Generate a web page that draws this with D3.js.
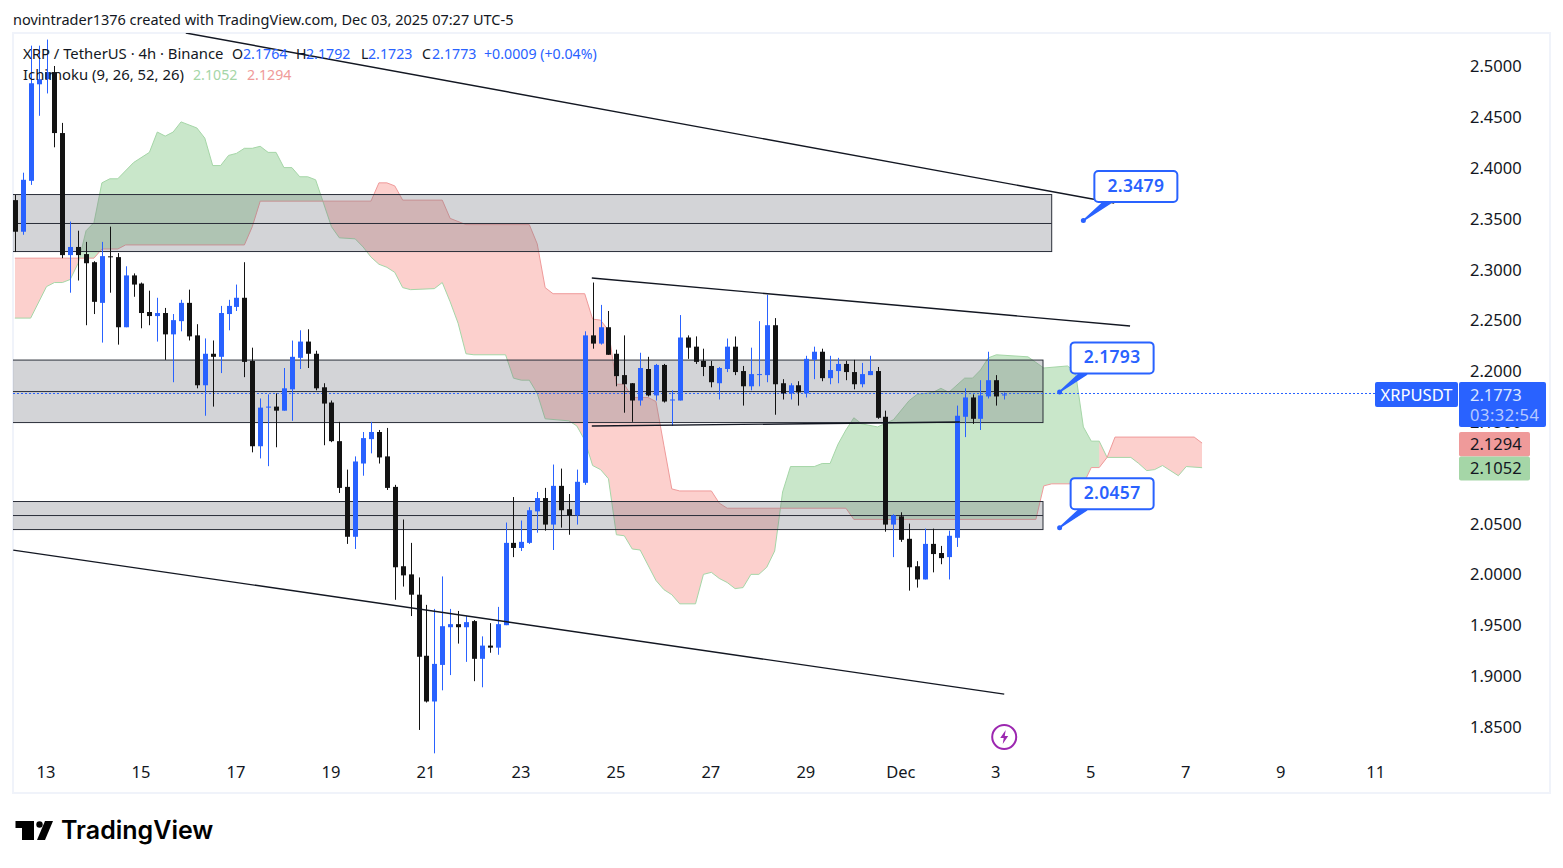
<!DOCTYPE html>
<html>
<head>
<meta charset="utf-8">
<title>XRP / TetherUS</title>
<script src="https://cdn.jsdelivr.net/npm/d3@7/dist/d3.min.js"></script>
<style>
  html, body { margin: 0; padding: 0; background: #fff; }
  svg { display: block; }
  text { font-family: "Noto Sans", sans-serif; }
</style>
</head>
<body>
<div id="chart"></div>
<script>
// candles, 4h, first one sits four bars before the "13" tick
const firstIndex = -4;
const opens = [2.3685,2.3374,2.3875,2.4825,2.4875,2.4945,2.4345,2.3144,2.3224,2.3154,2.3074,2.2674,2.3132,2.3124,2.2434,2.2944,2.2864,2.2584,2.2544,2.2574,2.2364,2.2494,2.2674,2.2354,2.1863,2.2173,2.2143,2.2564,2.2634,2.2724,2.2103,2.1263,2.1648,2.1653,2.1613,2.1823,2.2133,2.2293,2.2173,2.1843,2.1693,2.1313,2.0863,2.0372,2.1093,2.1333,2.1403,2.1163,2.0863,2.0082,2.0002,1.9802,1.9201,1.8751,1.9111,1.9482,1.9512,1.9482,1.9542,1.9171,1.9301,1.9281,1.9502,2.0312,2.0262,2.0312,2.0622,2.0753,2.0492,2.0873,2.0643,2.0583,2.0903,2.2354,2.2273,2.2434,2.2173,2.1963,2.1883,2.1713,2.2023,2.1763,2.2063,2.1720,2.1713,2.2333,2.2243,2.2103,2.2053,2.1883,2.2023,2.2243,2.2003,2.1853,2.1970,2.1963,2.2454,2.1883,2.1783,2.1863,2.1783,2.2113,2.2193,2.1933,2.2003,2.2073,2.1993,2.1873,2.1963,2.2003,2.1553,2.0492,2.0573,2.0352,2.0082,1.9952,2.0302,2.0212,2.0172,2.0362,2.1553,2.1743,2.1533,2.1753,2.1913,2.1764];
const highs = [2.3735,2.3955,2.5205,2.5205,2.5265,2.5005,2.4445,2.3474,2.3384,2.3274,2.3084,2.3274,2.3424,2.3164,2.3034,2.2964,2.2874,2.2794,2.2724,2.2624,2.2564,2.2704,2.2804,2.2464,2.2324,2.2304,2.2644,2.2704,2.2854,2.3074,2.2233,2.1733,2.1773,2.1783,2.2033,2.2303,2.2404,2.2414,2.2203,2.1883,2.1713,2.1503,2.1033,2.1163,2.1403,2.1503,2.1423,2.1443,2.0883,2.0542,2.0312,1.9972,1.9702,1.9662,1.9982,1.9662,1.9642,1.9592,1.9552,1.9392,1.9522,1.9682,2.0512,2.0763,2.0532,2.0663,2.0813,2.0853,2.1083,2.1043,2.0793,2.1033,2.2394,2.2874,2.2654,2.2594,2.2213,2.2354,2.1885,2.2183,2.2143,2.2073,2.2073,2.1813,2.2554,2.2354,2.2344,2.2223,2.2103,2.2043,2.2323,2.2343,2.2053,2.2233,2.2494,2.2754,2.2524,2.1923,2.1883,2.1903,2.2153,2.2243,2.2223,2.2153,2.2133,2.2103,2.2113,2.2083,2.2153,2.2043,2.1613,2.0593,2.0613,2.0502,2.0132,2.0452,2.0452,2.0282,2.0432,2.1663,2.1833,2.1773,2.1913,2.2193,2.1963,2.1792];
const lows = [2.3174,2.3344,2.3835,2.4515,2.4735,2.4205,2.3114,2.2774,2.2894,2.2454,2.2564,2.2283,2.2774,2.2263,2.2434,2.2734,2.2424,2.2454,2.2293,2.2113,2.1893,2.2394,2.2304,2.1833,2.1563,2.1653,2.1983,2.2404,2.2594,2.1943,2.1203,2.1143,2.1067,2.1253,2.1613,2.1513,2.2023,2.2033,2.1813,2.1273,2.1303,2.0803,2.0302,2.0252,2.0973,2.1193,2.1093,2.0833,1.9752,1.9882,1.9592,1.8471,1.8741,1.8241,1.8861,1.9011,1.9321,1.9141,1.8951,1.8891,1.9231,1.9211,1.9502,2.0172,2.0232,2.0302,2.0412,2.0432,2.0242,2.0462,2.0392,2.0492,2.0883,2.2223,2.2263,2.2163,2.1853,2.1593,2.1503,2.1663,2.1753,2.1713,2.1693,2.1463,2.1713,2.2123,2.2073,2.1953,2.1843,2.1723,2.1993,2.1963,2.1663,2.1813,2.1853,2.1893,2.1573,2.1723,2.1723,2.1663,2.1743,2.1923,2.1903,2.1873,2.1883,2.1913,2.1823,2.1843,2.1963,2.1533,2.0422,2.0172,2.0322,1.9842,1.9872,1.9952,2.0022,2.0102,1.9952,2.0272,2.1353,2.1483,2.1423,2.1733,2.1663,2.1723];
const closes = [2.3374,2.3885,2.4835,2.4875,2.4945,2.4345,2.3144,2.3224,2.3144,2.3064,2.2684,2.3134,2.3124,2.2434,2.2944,2.2854,2.2574,2.2544,2.2574,2.2364,2.2504,2.2674,2.2344,2.1863,2.2173,2.2143,2.2574,2.2644,2.2724,2.2093,2.1263,2.1643,2.1653,2.1613,2.1833,2.2143,2.2293,2.2173,2.1833,2.1683,2.1313,2.0853,2.0372,2.1113,2.1343,2.1403,2.1153,2.0853,2.0072,1.9992,1.9802,1.9191,1.8751,1.9121,1.9492,1.9512,1.9482,1.9532,1.9171,1.9301,1.9281,1.9512,2.0312,2.0262,2.0322,2.0633,2.0753,2.0492,2.0873,2.0633,2.0583,2.0913,2.2354,2.2273,2.2434,2.2163,2.1953,2.1873,2.1713,2.2033,2.1763,2.2063,2.1703,2.1723,2.2333,2.2233,2.2093,2.2043,2.1893,2.2033,2.2243,2.1993,2.1853,2.1973,2.1973,2.2454,2.1873,2.1783,2.1863,2.1793,2.2123,2.2193,2.1933,2.2013,2.2073,2.1993,2.1873,2.1973,2.2003,2.1543,2.0492,2.0583,2.0342,2.0072,1.9952,2.0302,2.0202,2.0162,2.0382,2.1563,2.1743,2.1533,2.1763,2.1913,2.1753,2.1773];

// ichimoku cloud edges, corner points only
const spanAIndex = [-4,-2,0,1,2,3,4,5,6,7,8,9,11,13,14,15,16,17,19,20,21,22,23,24,25,26,27,28,29,30,31,32,33,34,35,36,37,39,40,41,42,43,44,45,46,49,50,51,52,53,54,58,59,60,61,62,63,66,67,68,69,70,71,72,73,74,75,77,78,79,80,82,83,84,85,86,87,88,89,90,91,92,93,94,97,98,99,100,101,102,103,105,107,109,110,112,113,114,116,117,118,119,120,124,126,129,130,131,132,133,134,137,138,139,140,141,143,144,146];
const spanA = [2.2524,2.2524,2.2834,2.2874,2.2874,2.2904,2.3064,2.3384,2.3464,2.3855,2.3895,2.3895,2.4055,2.4155,2.4355,2.4315,2.4355,2.4455,2.4395,2.4295,2.4025,2.4025,2.4125,2.4145,2.4195,2.4195,2.4215,2.4155,2.4155,2.4005,2.4005,2.3915,2.3915,2.3885,2.3655,2.3424,2.3314,2.3304,2.3224,2.3124,2.3054,2.3024,2.2974,2.2824,2.2804,2.2814,2.2874,2.2684,2.2474,2.2173,2.2163,2.2163,2.1933,2.1913,2.1913,2.1783,2.1533,2.1513,2.1463,2.1323,2.1073,2.1033,2.0943,2.0392,2.0382,2.0252,2.0242,1.9942,1.9852,1.9802,1.9712,1.9712,2.0002,2.0022,1.9962,1.9922,1.9862,1.9872,2.0002,2.0002,2.0072,2.0232,2.0813,2.1063,2.1063,2.1093,2.1093,2.1283,2.1423,2.1543,2.1483,2.1453,2.1523,2.1713,2.1773,2.1793,2.1833,2.1793,2.1933,2.1933,2.2013,2.2133,2.2163,2.2143,2.2033,2.2053,2.1993,2.1453,2.1313,2.1313,2.1153,2.1153,2.1093,2.1023,2.1033,2.1073,2.0973,2.1063,2.1052];
const spanBIndex = [-4,6,7,9,10,25,26,27,41,42,43,44,45,50,51,53,61,62,63,64,68,69,70,71,72,73,74,76,77,78,79,80,84,85,86,101,102,125,126,127,131,132,133,134,135,145,146];
const spanB = [2.3114,2.3114,2.3204,2.3204,2.3244,2.3244,2.3424,2.3675,2.3675,2.3855,2.3855,2.3825,2.3685,2.3685,2.3505,2.3444,2.3444,2.3254,2.2824,2.2764,2.2764,2.2514,2.2504,2.2404,2.1873,2.1873,2.1743,2.1743,2.1703,2.1273,2.0843,2.0823,2.0823,2.0703,2.0653,2.0653,2.0543,2.0543,2.0873,2.0893,2.0893,2.1053,2.1053,2.1153,2.1353,2.1353,2.1294];

// the bar where the cloud flips to red keeps the red fill back to its left edge
const flipIndex = [133, 134, 133];
const flipPrice = [2.1313, 2.1153, 2.1053];

// grey zones drawn on the chart
const zoneTop = [2.374, 2.2111, 2.0719];
const zoneMid = [2.3455, 2.1801, 2.0581];
const zoneBottom = [2.3179, 2.1496, 2.0443];
const zoneEnd = [127, 125.9, 125.9];

// trend lines: start/end bar index and price
const trendX1 = [17.6, 68.9, 68.9, -4.2];
const trendY1 = [2.533, 2.2918, 2.1462, 2.0241];
const trendX2 = [134.9, 136.9, 115.4, 121];
const trendY2 = [2.3657, 2.2446, 2.1501, 1.8824];

// price callouts
const noteValue = ['2.3479', '2.1793', '2.0457'];
const notePointIndex = [131, 128, 128];
const notePointPrice = [2.3479, 2.1793, 2.0457];

// 2.1000 sits fully behind the green label in the picture
const priceTicks = [1.85, 1.9, 1.95, 2.0, 2.05, 2.15, 2.2, 2.25, 2.3, 2.35, 2.4, 2.45, 2.5];
const timeTickIndex = [0,12,24,36,48,60,72,84,96,108,120,132,144,156,168];
const timeTickLabels = ['13','15','17','19','21','23','25','27','29','Dec','3','5','7','9','11'];

const width = 1563, height = 868;
const pane = { left: 13, right: 1550, top: 33, bottom: 793 };
const BLUE = '#2962ff', BLACK = '#131313', INK = '#131722';

const x = d3.scaleLinear().domain([0, 120]).range([46.5, 46.5 + 7.915 * 120]);
const y = d3.scaleLinear().domain([1.85, 2.5]).range([727, 66.5]);

const svg = d3.select('#chart').append('svg').attr('width', width).attr('height', height);

// frame
svg.append('rect')
  .attr('x', pane.left).attr('y', pane.top)
  .attr('width', pane.right - pane.left).attr('height', pane.bottom - pane.top)
  .attr('fill', '#fff').attr('stroke', '#f0f3fa').attr('stroke-width', 2);

const defs = svg.append('defs');
defs.append('clipPath').attr('id', 'paneClip').append('rect')
  .attr('x', pane.left).attr('y', pane.top)
  .attr('width', 1373).attr('height', pane.bottom - pane.top);

const plot = svg.append('g').attr('clip-path', 'url(#paneClip)');

// cloud: each colour is "under one edge" clipped by "over the other edge"
const pointsA = spanAIndex.map((d, i) => [d, spanA[i]]);
const pointsB = spanBIndex.map((d, i) => [d, spanB[i]]);
const under = d3.area().x(d => x(d[0])).y0(pane.bottom).y1(d => y(d[1]));
const over = d3.area().x(d => x(d[0])).y0(pane.top - 50).y1(d => y(d[1]));
const edge = d3.line().x(d => x(d[0])).y(d => y(d[1]));

defs.append('clipPath').attr('id', 'overB').append('path').attr('d', over(pointsB));
defs.append('clipPath').attr('id', 'overA').append('path').attr('d', over(pointsA));

const RED_FILL = 'rgba(244,67,54,0.25)';
plot.append('path').attr('d', under(pointsA)).attr('clip-path', 'url(#overB)')
  .attr('fill', 'rgba(76,175,80,0.3)');
plot.append('path').attr('d', under(pointsB)).attr('clip-path', 'url(#overA)')
  .attr('fill', RED_FILL);

const flipPath = edge(flipIndex.map((d, i) => [d, flipPrice[i]])) + 'Z';
plot.append('path').attr('d', flipPath).attr('fill', '#fff');
plot.append('path').attr('d', flipPath).attr('fill', RED_FILL);

plot.append('path').attr('d', edge(pointsA)).attr('fill', 'none').attr('stroke', '#a5d6a7').attr('stroke-width', 1);
plot.append('path').attr('d', edge(pointsB)).attr('fill', 'none').attr('stroke', '#ef9a9a').attr('stroke-width', 1);

// zones are see-through and lie over the cloud, under the candles
const zones = plot.selectAll('.zone').data(zoneTop.map((t, i) => i)).enter().append('g').attr('class', 'zone');
zones.append('rect')
  .attr('x', pane.left - 4)
  .attr('y', i => y(zoneTop[i]))
  .attr('width', i => x(zoneEnd[i]) - pane.left + 4)
  .attr('height', i => y(zoneBottom[i]) - y(zoneTop[i]))
  .attr('fill', 'rgba(120,123,134,0.33)').attr('stroke', '#2a2e39').attr('stroke-width', 1);
zones.append('line')
  .attr('x1', pane.left).attr('x2', i => x(zoneEnd[i]))
  .attr('y1', i => y(zoneMid[i])).attr('y2', i => y(zoneMid[i]))
  .attr('stroke', '#2a2e39').attr('stroke-width', 1);

// last price line
const lastClose = closes[closes.length - 1];
plot.append('line')
  .attr('x1', pane.left).attr('x2', 1375)
  .attr('y1', Math.round(y(lastClose)) - 0.5).attr('y2', Math.round(y(lastClose)) - 0.5)
  .attr('stroke', BLUE).attr('stroke-width', 1).attr('stroke-dasharray', '2 2');

// candles
const candles = opens.map((o, i) => ({
  i: firstIndex + i, o, h: highs[i], l: lows[i], c: closes[i]
}));
const candleColor = d => (d.c >= d.o ? BLUE : BLACK);

const candleGroup = plot.selectAll('.candle').data(candles).enter().append('g').attr('class', 'candle');
candleGroup.append('rect')
  .attr('x', d => Math.round(x(d.i)))
  .attr('width', 1)
  .attr('y', d => y(d.h))
  .attr('height', d => y(d.l) - y(d.h))
  .attr('fill', candleColor);
candleGroup.append('rect')
  .attr('x', d => Math.round(x(d.i)) - 2)
  .attr('width', 5)
  .attr('y', d => y(Math.max(d.o, d.c)))
  .attr('height', d => Math.max(1, Math.abs(y(d.o) - y(d.c))))
  .attr('fill', candleColor);

// trend lines
plot.selectAll('.trend').data(trendX1).enter().append('line')
  .attr('class', 'trend')
  .attr('x1', d => x(d))
  .attr('y1', (d, i) => y(trendY1[i]))
  .attr('x2', (d, i) => x(trendX2[i]))
  .attr('y2', (d, i) => y(trendY2[i]))
  .attr('stroke', INK).attr('stroke-width', 1.4);

// callouts
const noteW = 83, noteH = 31;
const notes = plot.selectAll('.note').data(noteValue).enter().append('g').attr('class', 'note')
  .attr('transform', (d, i) => `translate(${x(notePointIndex[i])},${y(notePointPrice[i]) - 0.5})`);
notes.append('path')
  .attr('d', 'M0,0L19,-17.5L27,-17.5Z')
  .attr('fill', BLUE).attr('stroke', BLUE).attr('stroke-width', 1.5).attr('stroke-linejoin', 'round');
notes.append('circle').attr('r', 2.5).attr('fill', BLUE);
notes.append('rect')
  .attr('x', 11).attr('y', -49.5).attr('width', noteW).attr('height', noteH).attr('rx', 4)
  .attr('fill', '#fff').attr('stroke', BLUE).attr('stroke-width', 2);
notes.append('text')
  .attr('x', 11 + noteW / 2).attr('y', -28.5).attr('text-anchor', 'middle')
  .attr('font-size', 17.5).attr('font-weight', 600).attr('letter-spacing', 0.3).attr('fill', BLUE)
  .text(d => d);

// lightning mark
const bolt = plot.append('g').attr('transform', `translate(${x(121)},737)`);
bolt.append('circle').attr('r', 12).attr('fill', '#fff').attr('stroke', '#9c27b0').attr('stroke-width', 2);
bolt.append('path').attr('d', 'M1.5,-7L-4,1L-0.5,1L-1.5,7L4,-1L0.5,-1Z').attr('fill', '#9c27b0');

// axes
const xAxis = d3.axisBottom(x)
  .tickValues(timeTickIndex)
  .tickFormat((d, i) => timeTickLabels[i])
  .tickSize(0);
const xAxisG = svg.append('g').attr('transform', 'translate(-1,762)').call(xAxis);
const yAxis = d3.axisRight(y).tickValues(priceTicks).tickFormat(d3.format('.4f')).tickSize(0);
const yAxisG = svg.append('g').attr('transform', 'translate(1470,0)').call(yAxis);
[xAxisG, yAxisG].forEach(g => {
  g.select('.domain').remove();
  g.selectAll('text').attr('fill', INK).attr('font-size', 16.5)
    .style('font-family', '"Noto Sans", sans-serif');
});
xAxisG.selectAll('text').attr('y', 0).attr('dy', '0.95em');
yAxisG.selectAll('text').attr('x', 0);

// price labels on the right
svg.append('rect').attr('x', 1375).attr('y', 382).attr('width', 83).attr('height', 25).attr('rx', 2).attr('fill', BLUE);
svg.append('text').attr('x', 1416.5).attr('y', 400.5).attr('text-anchor', 'middle')
  .attr('font-size', 16.5).attr('fill', '#fff').text('XRPUSDT');
svg.append('rect').attr('x', 1459).attr('y', 382).attr('width', 87).attr('height', 45).attr('rx', 2).attr('fill', BLUE);
svg.append('text').attr('x', 1470).attr('y', 401).attr('font-size', 16.5).attr('fill', '#dbe5ff').text('2.1773');
svg.append('text').attr('x', 1470).attr('y', 421).attr('font-size', 16.5).attr('letter-spacing', 0.5).attr('fill', '#b6c9ff').text('03:32:54');
svg.append('rect').attr('x', 1459).attr('y', 432).attr('width', 71).attr('height', 24.5).attr('rx', 2).attr('fill', '#ef9a9a');
svg.append('text').attr('x', 1470).attr('y', 450).attr('font-size', 16.5).attr('fill', INK).text('2.1294');
svg.append('rect').attr('x', 1459).attr('y', 456.5).attr('width', 71).attr('height', 24).attr('rx', 2).attr('fill', '#a5d6a7');
svg.append('text').attr('x', 1470).attr('y', 474).attr('font-size', 16.5).attr('fill', INK).text('2.1052');

// header and legend
svg.append('text').attr('x', 13).attr('y', 24.5).attr('font-size', 14.5).attr('fill', INK)
  .text('novintrader1376 created with TradingView.com, Dec 03, 2025 07:27 UTC-5');

const legend = [
  ['XRP / TetherUS · 4h · Binance', 23, 59, INK, 14.85],
  ['O', 232, 59, INK, 14.2], ['2.1764', 243, 59, BLUE, 14.2],
  ['H', 296, 59, INK, 14.2], ['2.1792', 306, 59, BLUE, 14.2],
  ['L', 361, 59, INK, 14.2], ['2.1723', 368, 59, BLUE, 14.2],
  ['C', 422, 59, INK, 14.2], ['2.1773', 432, 59, BLUE, 14.2],
  ['+0.0009 (+0.04%)', 484, 59, BLUE, 14.2],
  ['Ichimoku (9, 26, 52, 26)', 23, 80, INK, 14.85],
  ['2.1052', 193, 80, '#a5d6a7', 14.2],
  ['2.1294', 247, 80, '#ef9a9a', 14.2]
];
svg.selectAll('.legend').data(legend).enter().append('text')
  .attr('class', 'legend')
  .attr('x', d => d[1]).attr('y', d => d[2])
  .attr('font-size', d => d[4]).attr('fill', d => d[3])
  .text(d => d[0]);

// TradingView logo
svg.append('path').attr('d', 'M15.5,821H34V840H22V828H15.5Z').attr('fill', '#000');
svg.append('circle').attr('cx', 39.5).attr('cy', 824.5).attr('r', 3.2).attr('fill', '#000');
svg.append('path').attr('d', 'M45,821H53L45,840H37Z').attr('fill', '#000');
svg.append('text').attr('x', 61).attr('y', 839)
  .attr('font-size', 25).attr('font-weight', 600).attr('fill', '#000')
  .style('font-family', 'Inter, sans-serif').text('TradingView');
</script>
</body>
</html>
